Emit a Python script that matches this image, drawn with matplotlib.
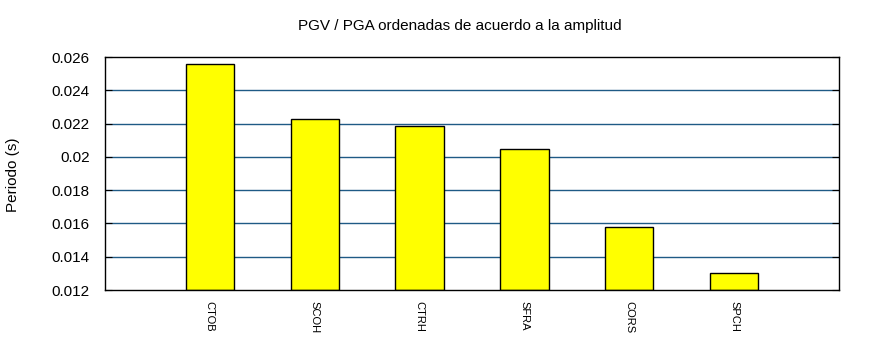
import matplotlib
matplotlib.use("Agg")
import matplotlib.pyplot as plt

plt.rcParams['font.family'] = ['Liberation Sans', 'DejaVu Sans']

stations = ["CTOB", "SCOH", "CTRH", "SFRA", "CORS", "SPCH"]
periods = [0.02558, 0.02228, 0.02186, 0.02047, 0.01579, 0.01302]
yticks = [0.012, 0.014, 0.016, 0.018, 0.02, 0.022, 0.024, 0.026]
ytick_labels = ["0.012", "0.014", "0.016", "0.018", "0.02", "0.022", "0.024", "0.026"]

fig = plt.figure(figsize=(8.7, 3.5), dpi=100)
ax = fig.add_axes([105/870, 1-290/350, (839-105)/870, (290-57)/350])

xs = list(range(1, len(stations) + 1))
ax.bar(xs, [p - 0.012 for p in periods], bottom=0.012, width=0.46,
       color="#ffff00", edgecolor="black", linewidth=1, zorder=3)

ax.set_xlim(0, 7)
ax.set_ylim(0.012, 0.026)
ax.set_yticks(yticks)
ax.set_yticklabels(ytick_labels, fontsize=11)
ax.set_xticks(xs)
ax.set_xticklabels(stations, rotation=270, fontsize=8)
ax.tick_params(axis='x', length=0, pad=8)
ax.tick_params(axis='y', direction='in', length=5, right=True, pad=11)
for y in yticks[1:-1]:
    ax.axhline(y, color="#1f5a85", linewidth=1, zorder=1)
for s in ax.spines.values():
    s.set_linewidth(1)
    s.set_zorder(4)

fig.text(13/870, 1-175/350, "Periodo (s)", rotation=90, ha="center", va="center", fontsize=11)
fig.text(460/870, 1-26/350, "PGV / PGA ordenadas de acuerdo a la amplitud",
         ha="center", va="center", fontsize=11)

fig.savefig("out.png", dpi=100, facecolor="white")
